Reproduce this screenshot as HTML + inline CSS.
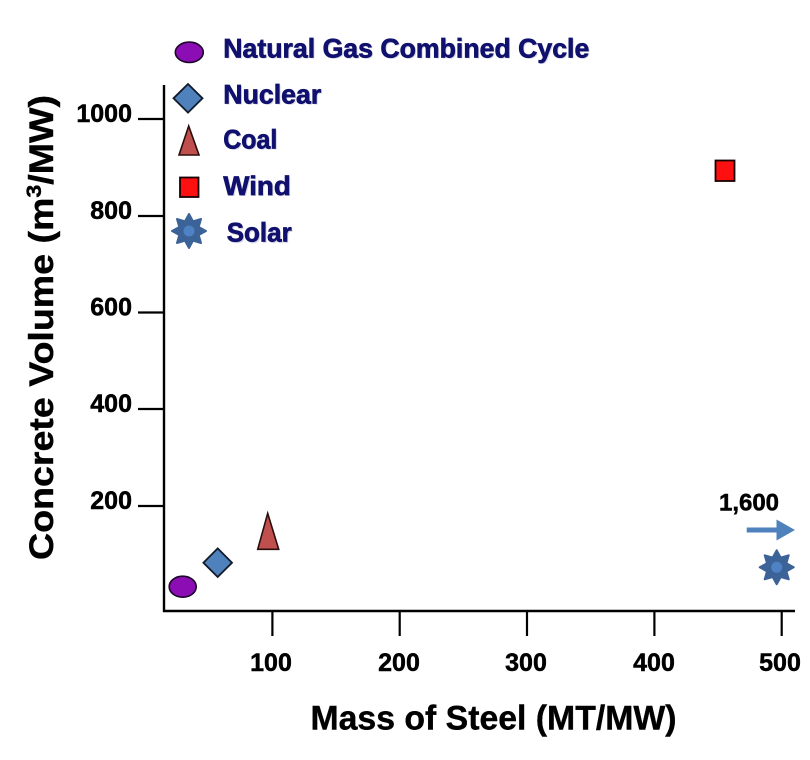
<!DOCTYPE html>
<html>
<head>
<meta charset="utf-8">
<style>
  html, body { margin: 0; padding: 0; background: #ffffff; }
  svg { display: block; }
  text { font-family: "Liberation Sans", Arial, sans-serif; font-weight: bold; }
</style>
</head>
<body>
<svg width="810" height="760" viewBox="0 0 810 760" xmlns="http://www.w3.org/2000/svg">
  <rect width="810" height="760" fill="#ffffff"/>

  <!-- Axes -->
  <line x1="164" y1="85" x2="164" y2="612" stroke="#000" stroke-width="2.4"/>
  <line x1="163" y1="611" x2="795" y2="611" stroke="#000" stroke-width="2.4"/>

  <!-- Y ticks -->
  <g stroke="#000" stroke-width="2.2">
    <line x1="138" y1="119" x2="164" y2="119"/>
    <line x1="138" y1="216" x2="164" y2="216"/>
    <line x1="138" y1="312.5" x2="164" y2="312.5"/>
    <line x1="138" y1="409" x2="164" y2="409"/>
    <line x1="138" y1="506" x2="164" y2="506"/>
  </g>
  <g font-size="25" fill="#000" stroke="#000" stroke-width="0.5" text-anchor="end">
    <text x="132" y="122">1000</text>
    <text x="132" y="219">800</text>
    <text x="132" y="315.5">600</text>
    <text x="132" y="412">400</text>
    <text x="132" y="509">200</text>
  </g>

  <!-- X ticks -->
  <g stroke="#000" stroke-width="2.2">
    <line x1="272.4" y1="611" x2="272.4" y2="636"/>
    <line x1="399.7" y1="611" x2="399.7" y2="636"/>
    <line x1="527" y1="611" x2="527" y2="636"/>
    <line x1="654.4" y1="611" x2="654.4" y2="636"/>
    <line x1="781.7" y1="611" x2="781.7" y2="636"/>
  </g>
  <g font-size="25" fill="#000" stroke="#000" stroke-width="0.5" text-anchor="middle">
    <text x="271" y="671">100</text>
    <text x="399" y="671">200</text>
    <text x="526" y="671">300</text>
    <text x="654" y="671">400</text>
    <text x="780" y="671">500</text>
  </g>

  <!-- Axis titles -->
  <text x="310.5" y="729.5" font-size="34" fill="#000" stroke="#000" stroke-width="0.4" textLength="366" lengthAdjust="spacingAndGlyphs">Mass of Steel (MT/MW)</text>
  <text transform="translate(53,560) rotate(-90)" x="0" y="0" font-size="34" fill="#000" stroke="#000" stroke-width="0.4" textLength="465" lengthAdjust="spacingAndGlyphs">Concrete Volume (m<tspan font-size="21" dy="-12">3</tspan><tspan dy="12">/MW)</tspan></text>

  <!-- Legend -->
  <ellipse cx="189.3" cy="52.3" rx="14" ry="10.2" fill="#8B0DB3" stroke="#1a0628" stroke-width="1.6"/>
  <polygon points="188,84 202.5,98.3 188,112.6 173.5,98.3" fill="#4F81BD" stroke="#111a2a" stroke-width="1.8"/>
  <polygon points="188.7,126 199,155 179,155" fill="#C0504D" stroke="#2a0d0c" stroke-width="1.6"/>
  <rect x="180" y="177.5" width="18.5" height="19.5" fill="#FF1010" stroke="#1a0000" stroke-width="1.8"/>
  <g transform="translate(189,231)">
    <polygon points="0,-17 4.02,-9.7 12.02,-12.02 9.7,-4.02 17,0 9.7,4.02 12.02,12.02 4.02,9.7 0,17 -4.02,9.7 -12.02,12.02 -9.7,4.02 -17,0 -9.7,-4.02 -12.02,-12.02 -4.02,-9.7" fill="#3C6397" stroke="#3C6397" stroke-width="2" stroke-linejoin="round"/>
    <circle cx="0" cy="0" r="5.5" fill="#4F82C4"/>
  </g>

  <g font-size="27">
    <g fill="#d6d7e2">
      <text x="224.5" y="58.5" textLength="366" lengthAdjust="spacingAndGlyphs">Natural Gas Combined Cycle</text>
      <text x="224.5" y="104.5" textLength="98" lengthAdjust="spacingAndGlyphs">Nuclear</text>
      <text x="224.5" y="149.5" textLength="54" lengthAdjust="spacingAndGlyphs">Coal</text>
      <text x="224.5" y="196.2" textLength="67.5" lengthAdjust="spacingAndGlyphs">Wind</text>
      <text x="227.9" y="242.9" textLength="65" lengthAdjust="spacingAndGlyphs">Solar</text>
    </g>
    <g fill="#10106E" stroke="#10106E" stroke-width="0.7">
      <text x="223.3" y="57.3" textLength="366" lengthAdjust="spacingAndGlyphs">Natural Gas Combined Cycle</text>
      <text x="223.3" y="103.3" textLength="98" lengthAdjust="spacingAndGlyphs">Nuclear</text>
      <text x="223.3" y="148.3" textLength="54" lengthAdjust="spacingAndGlyphs">Coal</text>
      <text x="223.3" y="195" textLength="67.5" lengthAdjust="spacingAndGlyphs">Wind</text>
      <text x="226.7" y="241.7" textLength="65" lengthAdjust="spacingAndGlyphs">Solar</text>
    </g>
  </g>

  <!-- Data points -->
  <ellipse cx="182.7" cy="586.7" rx="13.5" ry="10.5" fill="#8B0DB3" stroke="#1a0628" stroke-width="1.6"/>
  <polygon points="217.7,548.4 232,562.7 217.7,577 203.4,562.7" fill="#4F81BD" stroke="#111a2a" stroke-width="1.8"/>
  <polygon points="267.7,513.3 278.7,549.3 257.7,549.3" fill="#C0504D" stroke="#2a0d0c" stroke-width="1.6"/>
  <rect x="715.5" y="160.5" width="19" height="20.5" fill="#FF1010" stroke="#1a0000" stroke-width="1.8"/>
  <g transform="translate(776.7,567.3)">
    <polygon points="0,-17 4.02,-9.7 12.02,-12.02 9.7,-4.02 17,0 9.7,4.02 12.02,12.02 4.02,9.7 0,17 -4.02,9.7 -12.02,12.02 -9.7,4.02 -17,0 -9.7,-4.02 -12.02,-12.02 -4.02,-9.7" fill="#3C6397" stroke="#3C6397" stroke-width="2" stroke-linejoin="round"/>
    <circle cx="0" cy="0" r="5.5" fill="#4F82C4"/>
  </g>

  <!-- Arrow + label -->
  <rect x="746.7" y="527.5" width="31" height="5" fill="#4F81BD"/>
  <polygon points="776.5,519.5 795,530 776.5,540.5" fill="#4F81BD"/>
  <text x="749" y="510.7" font-size="24" fill="#000" stroke="#000" stroke-width="0.5" text-anchor="middle">1,600</text>
</svg>
</body>
</html>
